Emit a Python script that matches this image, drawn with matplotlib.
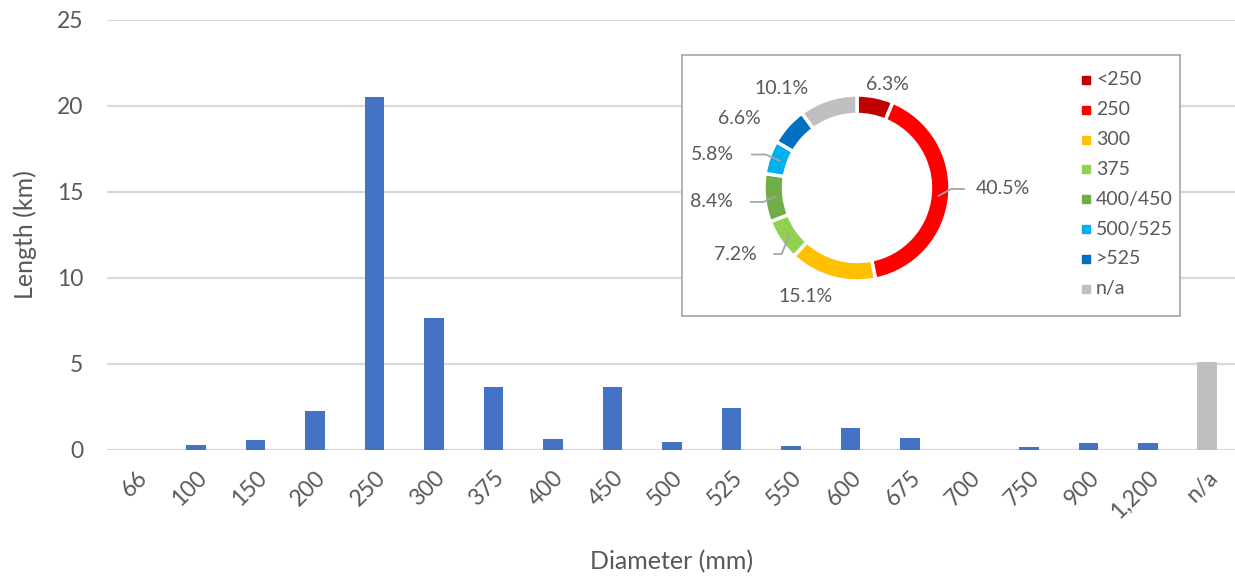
import numpy as np
import matplotlib
matplotlib.use("Agg")
import matplotlib.pyplot as plt
from matplotlib.patches import Rectangle

plt.rcParams['font.family'] = ['Lato', 'DejaVu Sans']

# Pipe length by diameter class.
DIAMETERS = ["66", "100", "150", "200", "250", "300", "375", "400", "450", "500",
             "525", "550", "600", "675", "700", "750", "900", "1,200", "n/a"]
LENGTHS_KM = [0.0, 0.3, 0.58, 2.25, 20.5, 7.65, 3.65, 0.62, 3.65, 0.47,
              2.45, 0.22, 1.3, 0.72, 0.0, 0.2, 0.38, 0.38, 5.1]

# Share of total length per diameter group (%).
GROUPS = ["<250", "250", "300", "375", "400/450", "500/525", ">525", "n/a"]
SHARES = [6.3, 40.5, 15.1, 7.2, 8.4, 5.8, 6.6, 10.1]
GROUP_COLORS = ["#C00000", "#FF0000", "#FFC000", "#92D050", "#70AD47", "#00B0F0", "#0070C0", "#BFBFBF"]

BLUE = "#4472C4"
TEXT = "#595959"
GRID = "#D9D9D9"

W, H = 1235, 577
fig = plt.figure(figsize=(W / 100, H / 100), dpi=100)


def px_axes(x0, y0, x1, y1, **kw):
    """Axes from pixel box (top-left origin)."""
    return fig.add_axes([x0 / W, 1 - y1 / H, (x1 - x0) / W, (y1 - y0) / H], **kw)


# Main bar chart
ax = px_axes(107, 20, 1237, 450)
x = np.arange(len(DIAMETERS))
colors = [BLUE] * (len(DIAMETERS) - 1) + ["#BFBFBF"]
ax.bar(x, LENGTHS_KM, width=0.33, color=colors, zorder=3)
ax.set_xlim(-0.5, len(DIAMETERS) - 0.5)
ax.set_ylim(0, 25)
ax.set_yticks([0, 5, 10, 15, 20, 25])
ax.yaxis.grid(True, color=GRID, linewidth=1.6, zorder=0)
for s in ax.spines.values():
    s.set_visible(False)
ax.tick_params(length=0, labelsize=16.5, labelcolor=TEXT)
ax.tick_params(axis="y", pad=17)
ax.set_xticks(x)
ax.set_xticklabels(DIAMETERS, rotation=45, ha="right", va="top", rotation_mode="anchor")
ax.tick_params(axis="x", pad=12)
ax.set_ylabel("Length (km)", fontsize=18, color=TEXT, labelpad=14)
ax.set_xlabel("Diameter (mm)", fontsize=18, color=TEXT, labelpad=20)

# Inset frame
frame = px_axes(682, 55, 1180, 316)
frame.set_xticks([])
frame.set_yticks([])
frame.set_facecolor("white")
for s in frame.spines.values():
    s.set_color("#A6A6A6")
    s.set_linewidth(1.2)

# Donut
cx, cy, r = 857, 188, 93
pax = px_axes(cx - r, cy - r, cx + r, cy + r)
wedges, _ = pax.pie(SHARES, colors=GROUP_COLORS, startangle=90, counterclock=False,
                    radius=1.0, wedgeprops=dict(width=0.21, edgecolor="white", linewidth=2.5))
pax.set_xlim(-1, 1)
pax.set_ylim(-1, 1)
pax.set_aspect("auto")
pax.axis("off")

# label positions in donut data units, and whether a leader line is drawn
label_pos = [(0.33, 1.11), (1.57, -0.01), (-0.55, -1.17), (-1.31, -0.71),
             (-1.56, -0.15), (-1.55, 0.36), (-1.26, 0.75), (-0.81, 1.07)]
leader = [False, True, False, True, True, True, False, False]
for w, share, (lx, ly), has_line in zip(wedges, SHARES, label_pos, leader):
    pax.text(lx, ly, f"{share:.1f}%", ha="center", va="center", fontsize=14,
             color=TEXT, clip_on=False)
    if has_line:
        ang = np.deg2rad((w.theta1 + w.theta2) / 2)
        sx, sy = 0.88 * np.cos(ang), 0.88 * np.sin(ang)
        ex = lx + (0.42 if lx < 0 else -0.42)
        pax.plot([sx, (sx + ex) / 2, ex], [sy, ly, ly], color="#A6A6A6", lw=1.3,
                 clip_on=False, zorder=5)

# Legend
for i, (name, c) in enumerate(zip(GROUPS, GROUP_COLORS)):
    y = 80 + i * 29.8
    fig.patches.append(Rectangle((1082 / W, 1 - (y + 4) / H), 8 / W, 8 / H,
                                 transform=fig.transFigure, color=c))
    fig.text(1096 / W, 1 - y / H, name, fontsize=14, color=TEXT, va="center", ha="left")

fig.savefig("out.png", dpi=100)
